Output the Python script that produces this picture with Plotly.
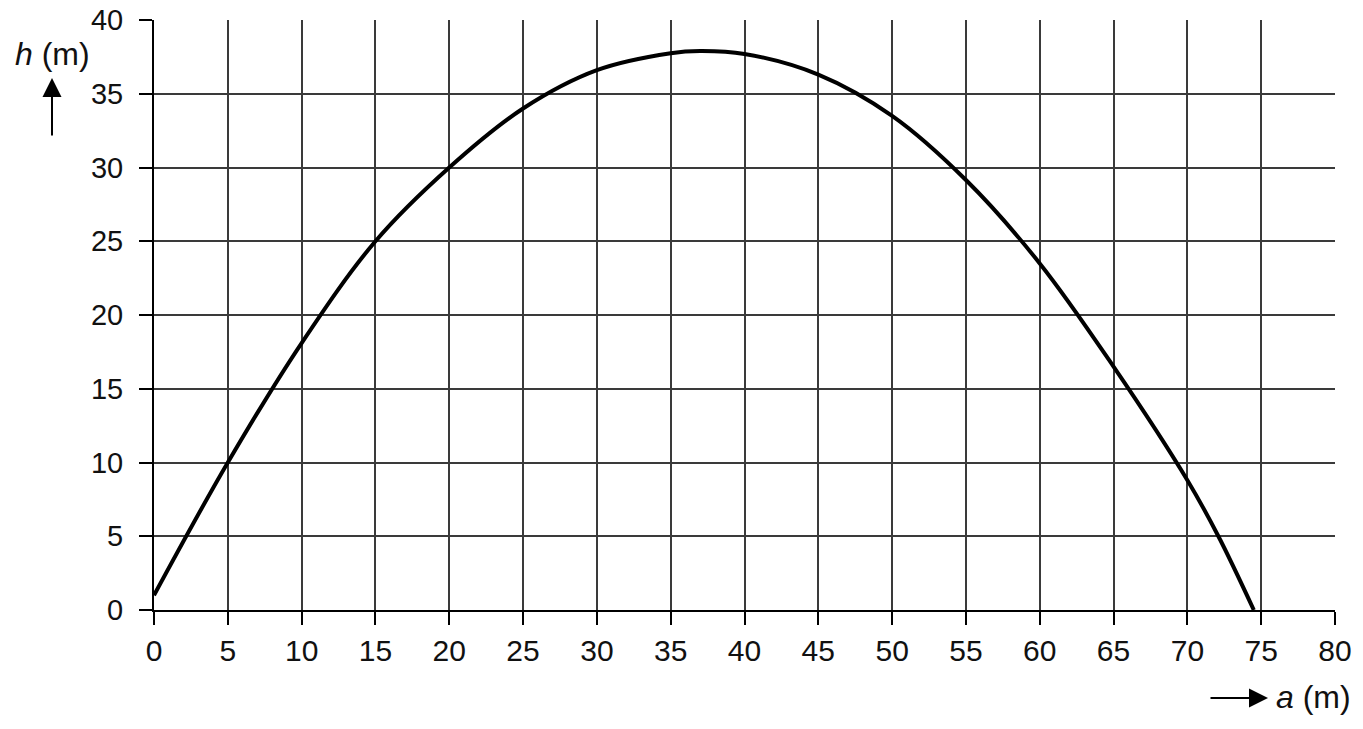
import plotly.graph_objects as go

# Values
a_values = [0, 5, 10, 15, 20, 25, 30, 35, 37, 40, 45, 50, 55, 60, 65, 70, 72.1, 74.5]
h_values = [1, 10, 18.1, 25, 30, 34, 36.6, 37.75, 37.9, 37.7, 36.3, 33.5, 29.15, 23.5, 16.5, 8.8, 5, 0]
x_ticks = list(range(0, 81, 5))
y_ticks = list(range(0, 41, 5))

FONT = "Liberation Sans, Arial, sans-serif"
W, H = 1363, 729
L, R, T, B = 154, 28, 20, 119
pw, ph = W - L - R, H - T - B

def px(sx):
    return (sx - L) / pw

def py(sy):
    return (H - B - sy) / ph

fig = go.Figure()
fig.add_trace(go.Scatter(
    x=a_values, y=h_values, mode="lines",
    line=dict(color="black", width=4, shape="spline", smoothing=1.0),
    hoverinfo="skip", showlegend=False,
))

axis_common = dict(
    showgrid=True, gridcolor="#3a3a3a", gridwidth=1.5,
    zeroline=False, showline=True, linecolor="black", linewidth=2,
    ticks="outside", ticklen=13, tickwidth=2, tickcolor="black",
    automargin=False, fixedrange=True, ticklabeloverflow="allow",
)

fig.update_xaxes(range=[0, 80], tickvals=x_ticks,
                 tickfont=dict(family=FONT, size=30, color="#111"), **axis_common)
fig.update_yaxes(range=[0, 40], tickvals=y_ticks, ticklabelstandoff=10,
                 tickfont=dict(family=FONT, size=29, color="#111"), **axis_common)

annotations = [
    # h (m) label
    dict(xref="paper", yref="paper", x=px(52), y=py(54), text="<i>h</i> (m)",
         showarrow=False, xanchor="center", yanchor="middle",
         font=dict(family=FONT, size=32, color="#111")),
    # upward arrow
    dict(xref="paper", yref="paper", x=px(52), y=py(78), text="",
         showarrow=True, ax=0, ay=59, arrowhead=2, arrowsize=1.9, arrowwidth=2,
         arrowcolor="black"),
    # a (m) label
    dict(xref="paper", yref="paper", x=px(1274), y=py(697), text="<i>a</i> (m)",
         showarrow=False, xanchor="left", yanchor="middle",
         font=dict(family=FONT, size=32, color="#111")),
    # right arrow
    dict(xref="paper", yref="paper", x=px(1268), y=py(698), text="",
         showarrow=True, ax=-59, ay=0, arrowhead=2, arrowsize=1.9, arrowwidth=2,
         arrowcolor="black"),
]

fig.update_layout(
    width=W, height=H,
    margin=dict(l=L, r=R, t=T, b=B),
    paper_bgcolor="white", plot_bgcolor="white",
    annotations=annotations,
    font=dict(family=FONT),
)

fig.write_html(
    "out.html",
    config={"displayModeBar": False},
    post_script="document.body.style.margin='0';document.body.style.overflow='hidden';",
)
